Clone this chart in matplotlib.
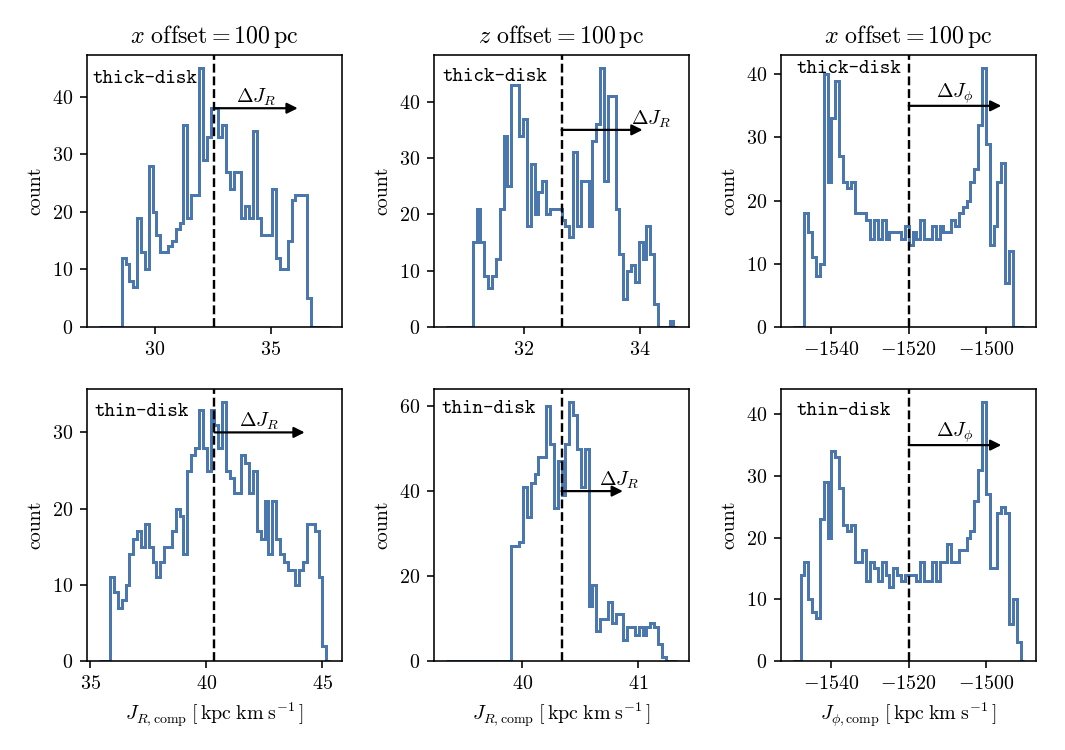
import numpy as np
import matplotlib
matplotlib.use('Agg')
import matplotlib.pyplot as plt

# contagens por bin (60 bins em cada painel)
thick_x_counts = [0, 0, 0, 0, 0, 0,
                  12, 11, 8, 7, 19, 13, 10, 28, 20, 16, 13, 13, 14, 15, 17, 18, 35, 19, 23, 23, 45, 29, 33, 38,
                  38, 33, 35, 27, 24, 27, 27, 19, 21, 19, 34, 19, 16, 16, 16, 24, 12, 10, 10, 15, 22, 23, 23, 23, 5,
                  0, 0, 0, 0, 0]
thick_z_counts = [0, 0, 0, 0, 0, 0, 0,
                  15, 21, 15, 9, 7, 9, 12, 21, 34, 25, 43, 43, 34, 37, 18, 29, 20, 24, 26, 20, 21, 21, 21,
                  19, 18, 16, 31, 18, 26, 26, 18, 33, 36, 46, 26, 41, 41, 21, 13, 5, 10, 11, 8, 15, 12, 18, 13, 4,
                  0, 0, 0, 1, 0]
thick_phi_counts = [0, 0, 0,
                    18, 15, 11, 8, 10, 40, 23, 33, 39, 27, 23, 22, 23, 18, 18, 18, 17, 14, 17, 14, 17, 14, 15, 15, 15, 14, 16,
                    13, 15, 14, 17, 14, 14, 16, 14, 16, 15, 15, 17, 16, 18, 19, 20, 23, 25, 32, 41, 29, 13, 16, 23, 26, 7, 12,
                    0, 0, 0]
thin_x_counts = [0, 0, 0,
                 11, 9, 7, 8, 10, 14, 16, 17, 15, 18, 15, 13, 11, 13, 15, 15, 17, 20, 19, 14, 25, 27, 28, 33, 28, 25, 33,
                 31, 28, 34, 25, 24, 22, 22, 27, 26, 22, 25, 17, 16, 21, 14, 21, 16, 14, 13, 12, 12, 10, 12, 13, 18, 18, 17, 11, 2,
                 0]
thin_z_counts = [0, 0, 0, 0, 0, 0, 0, 0, 0, 0, 0, 0, 0, 0, 0, 0, 0,
                 27, 27, 28, 41, 34, 42, 44, 48, 48, 60, 51, 36, 47,
                 39, 51, 61, 58, 50, 41, 50, 13, 18, 7, 10, 10, 14, 9, 11, 11, 5, 8, 8, 6, 8, 6, 8, 9, 8, 4, 1,
                 0, 0, 0]
thin_phi_counts = [0, 0,
                   14, 16, 10, 8, 7, 23, 29, 20, 34, 33, 28, 22, 21, 22, 16, 16, 18, 13, 16, 15, 13, 16, 14, 12, 15, 14, 13, 14,
                   14, 14, 13, 16, 13, 13, 16, 13, 16, 16, 19, 16, 16, 18, 18, 20, 21, 26, 31, 42, 27, 15, 15, 24, 25, 24, 6, 10, 3,
                   0]

# centro (linha tracejada) e meia largura do intervalo de cada histograma
centers = [32.57, 32.65, -1520.0, 40.35, 40.34, -1520.0]
half_widths = [5.0, 2.0, 30.0, 5.0, 1.0, 30.0]
deltas = [3.6, 1.4, 24.0, 3.9, 0.53, 24.0]

titles = [r'$x\ \mathrm{offset} = 100\,\mathrm{pc}$',
          r'$z\ \mathrm{offset} = 100\,\mathrm{pc}$',
          r'$x\ \mathrm{offset} = 100\,\mathrm{pc}$']
xlabels = [r'$J_{R,\mathrm{comp}}\;[\,\mathrm{kpc\;km\;s^{-1}}\,]$',
           r'$J_{R,\mathrm{comp}}\;[\,\mathrm{kpc\;km\;s^{-1}}\,]$',
           r'$J_{\phi,\mathrm{comp}}\;[\,\mathrm{kpc\;km\;s^{-1}}\,]$']
disk_names = ['thick-disk', 'thick-disk', 'thick-disk', 'thin-disk', 'thin-disk', 'thin-disk']
delta_names = [r'$\Delta J_R$', r'$\Delta J_R$', r'$\Delta J_\phi$',
               r'$\Delta J_R$', r'$\Delta J_R$', r'$\Delta J_\phi$']
xticks = [[30, 35], [32, 34], [-1540, -1520, -1500],
          [35, 40, 45], [40, 41], [-1540, -1520, -1500]]
yticks = [[0, 10, 20, 30, 40], [0, 10, 20, 30, 40], [0, 10, 20, 30, 40],
          [0, 10, 20, 30], [0, 20, 40, 60], [0, 10, 20, 30, 40]]

plt.rcParams['font.family'] = 'serif'
plt.rcParams['font.serif'] = ['cmr10']
plt.rcParams['mathtext.fontset'] = 'cm'
plt.rcParams['axes.formatter.use_mathtext'] = True

cor = '#4a77ae'

# posicoes das anotacoes (y da seta, deslocamento do texto, posicao do rotulo do disco)
arrow_y = [38, 35, 35, 30, 40, 35]
text_dx = [1.8, 1.55, 12.0, 1.95, 0.5, 12.0]
disk_pos = [(0.021, 0.945), (0.033, 0.951), (0.059, 0.982),
            (0.029, 0.949), (0.029, 0.960), (0.059, 0.953)]

count_sets = [thick_x_counts, thick_z_counts, thick_phi_counts,
              thin_x_counts, thin_z_counts, thin_phi_counts]

fig, axes = plt.subplots(2, 3, figsize=(1065 / 144, 750 / 144), dpi=144)
plt.subplots_adjust(left=0.0817, right=0.9728, bottom=0.1187, top=0.9267,
                    wspace=0.363, hspace=0.228)

for i, ax in enumerate(axes.flat):
    counts = np.array(count_sets[i])
    c = centers[i]
    hw = half_widths[i]
    edges = np.linspace(c - hw, c + hw, len(counts) + 1)
    ax.hist(edges[:-1], bins=edges, weights=counts, histtype='step', color=cor, lw=1.5)
    ax.axvline(c, color='k', ls='--', lw=1.2)
    ax.set_xlim(c - 1.1 * hw, c + 1.1 * hw)
    ax.set_ylim(0, 1.05 * counts.max())
    ax.set_xticks(xticks[i])
    ax.set_yticks(yticks[i])
    ax.set_ylabel('count')

    # seta do deslocamento
    ax.annotate('', xy=(c + deltas[i], arrow_y[i]), xytext=(c, arrow_y[i]),
                arrowprops=dict(arrowstyle='-|>', color='k', lw=1.1,
                                mutation_scale=11, shrinkA=0, shrinkB=0))
    ax.text(c + text_dx[i], arrow_y[i], delta_names[i], ha='center', va='bottom')
    ax.text(disk_pos[i][0], disk_pos[i][1], disk_names[i], transform=ax.transAxes,
            family='cmtt10', ha='left', va='top')

    if i < 3:
        ax.set_title(titles[i], fontsize=12)
    else:
        ax.set_xlabel(xlabels[i - 3])

plt.savefig('out.png', dpi=144)
